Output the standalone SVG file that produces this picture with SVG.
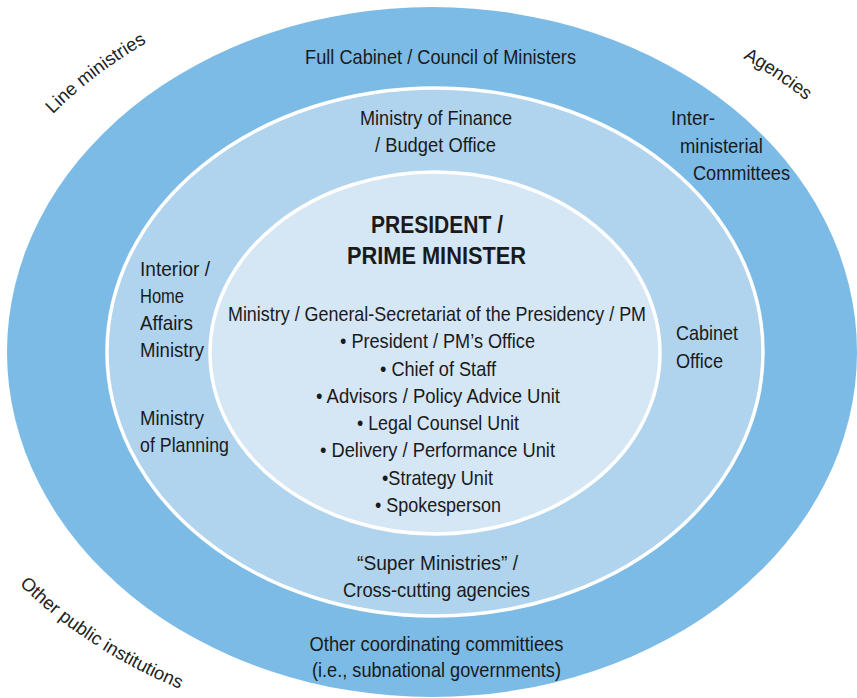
<svg xmlns="http://www.w3.org/2000/svg" width="857" height="698" viewBox="0 0 857 698">
<style>
.t{font-family:"Liberation Sans",Arial,sans-serif;font-size:21px;fill:#1a1a1a}
.c{text-anchor:middle}
.b{font-weight:bold;font-size:24px}
.o{font-family:"Liberation Sans",Arial,sans-serif;font-size:18.5px;fill:#222}
</style>
<rect width="857" height="698" fill="#ffffff"/>
<defs>
<path id="pLine" d="M 50 117 A 484 383 0 0 1 230 4"/>
<path id="pAg" d="M 743 58 A 508 372 0 0 1 860 152"/>
<path id="pOth" d="M 18 583 A 517 386 0 0 0 200 697"/>
</defs>
<g id="outer">
<ellipse cx="432" cy="352" rx="425" ry="345" fill="#7bbbe6"/>
</g>
<g id="middle">
<ellipse cx="435" cy="352" rx="328" ry="264" fill="#b0d4ee" stroke="#ffffff" stroke-width="3.5"/>
</g>
<g id="inner">
<ellipse cx="435" cy="353" rx="225" ry="181" fill="#d5e6f5" stroke="#ffffff" stroke-width="3.5"/>
</g>
<g id="labels-outer">
<g transform="scale(0.85 1)">
<text class="t c" x="518.24" y="64" textLength="318.8" lengthAdjust="spacingAndGlyphs">Full Cabinet / Council of Ministers</text>
<text class="t" x="789.41" y="125" textLength="51.8" lengthAdjust="spacingAndGlyphs">Inter-</text>
<text class="t" x="800" y="153" textLength="97.6" lengthAdjust="spacingAndGlyphs">ministerial</text>
<text class="t" x="815.29" y="180" textLength="114.1" lengthAdjust="spacingAndGlyphs">Committees</text>
<text class="t c" x="513.53" y="651" textLength="298.8" lengthAdjust="spacingAndGlyphs">Other coordinating committiees</text>
<text class="t c" x="513.53" y="677" textLength="292.9" lengthAdjust="spacingAndGlyphs">(i.e., subnational governments)</text>
</g>
</g>
<g id="labels-middle">
<g transform="scale(0.85 1)">
<text class="t c" x="512.94" y="125" textLength="178.8" lengthAdjust="spacingAndGlyphs">Ministry of Finance</text>
<text class="t c" x="512.35" y="152" textLength="142.4" lengthAdjust="spacingAndGlyphs">/ Budget Office</text>
<text class="t" x="164.71" y="276" textLength="82.4" lengthAdjust="spacingAndGlyphs">Interior /</text>
<text class="t" x="164.71" y="303" textLength="51.8" lengthAdjust="spacingAndGlyphs">Home</text>
<text class="t" x="164.71" y="330" textLength="62.4" lengthAdjust="spacingAndGlyphs">Affairs</text>
<text class="t" x="164.71" y="357" textLength="75.3" lengthAdjust="spacingAndGlyphs">Ministry</text>
<text class="t" x="164.71" y="425" textLength="75.3" lengthAdjust="spacingAndGlyphs">Ministry</text>
<text class="t" x="164.71" y="452" textLength="104.7" lengthAdjust="spacingAndGlyphs">of Planning</text>
<text class="t" x="795.29" y="340" textLength="72.9" lengthAdjust="spacingAndGlyphs">Cabinet</text>
<text class="t" x="795.29" y="368" textLength="55.3" lengthAdjust="spacingAndGlyphs">Office</text>
<text class="t c" x="514.71" y="570" textLength="189.4" lengthAdjust="spacingAndGlyphs">“Super Ministries” /</text>
<text class="t c" x="513.53" y="597" textLength="220" lengthAdjust="spacingAndGlyphs">Cross-cutting agencies</text>
</g>
</g>
<g id="labels-inner">
<g transform="scale(0.85 1)">
<text class="t c b" x="514.12" y="233" textLength="155.3" lengthAdjust="spacingAndGlyphs">PRESIDENT /</text>
<text class="t c b" x="513.53" y="264" textLength="210.6" lengthAdjust="spacingAndGlyphs">PRIME MINISTER</text>
<text class="t c" x="514.12" y="321" textLength="491.8" lengthAdjust="spacingAndGlyphs">Ministry / General-Secretariat of the Presidency / PM</text>
<text class="t c" x="514.71" y="348" textLength="229.4" lengthAdjust="spacingAndGlyphs">• President / PM’s Office</text>
<text class="t c" x="515.29" y="376" textLength="136.5" lengthAdjust="spacingAndGlyphs">• Chief of Staff</text>
<text class="t c" x="515.29" y="403" textLength="287.1" lengthAdjust="spacingAndGlyphs">• Advisors / Policy Advice Unit</text>
<text class="t c" x="515.29" y="430" textLength="190.6" lengthAdjust="spacingAndGlyphs">• Legal Counsel Unit</text>
<text class="t c" x="514.71" y="457" textLength="276.5" lengthAdjust="spacingAndGlyphs">• Delivery / Performance Unit</text>
<text class="t c" x="514.71" y="485" textLength="130.6" lengthAdjust="spacingAndGlyphs">•Strategy Unit</text>
<text class="t c" x="515.29" y="512" textLength="148.2" lengthAdjust="spacingAndGlyphs">• Spokesperson</text>
</g>
</g>
<g id="corner-labels">
<text class="o"><textPath href="#pLine" startOffset="4">Line ministries</textPath></text>
<text class="o"><textPath href="#pAg">Agencies</textPath></text>
<text class="o"><textPath href="#pOth" startOffset="2">Other public institutions</textPath></text>
</g>
</svg>
